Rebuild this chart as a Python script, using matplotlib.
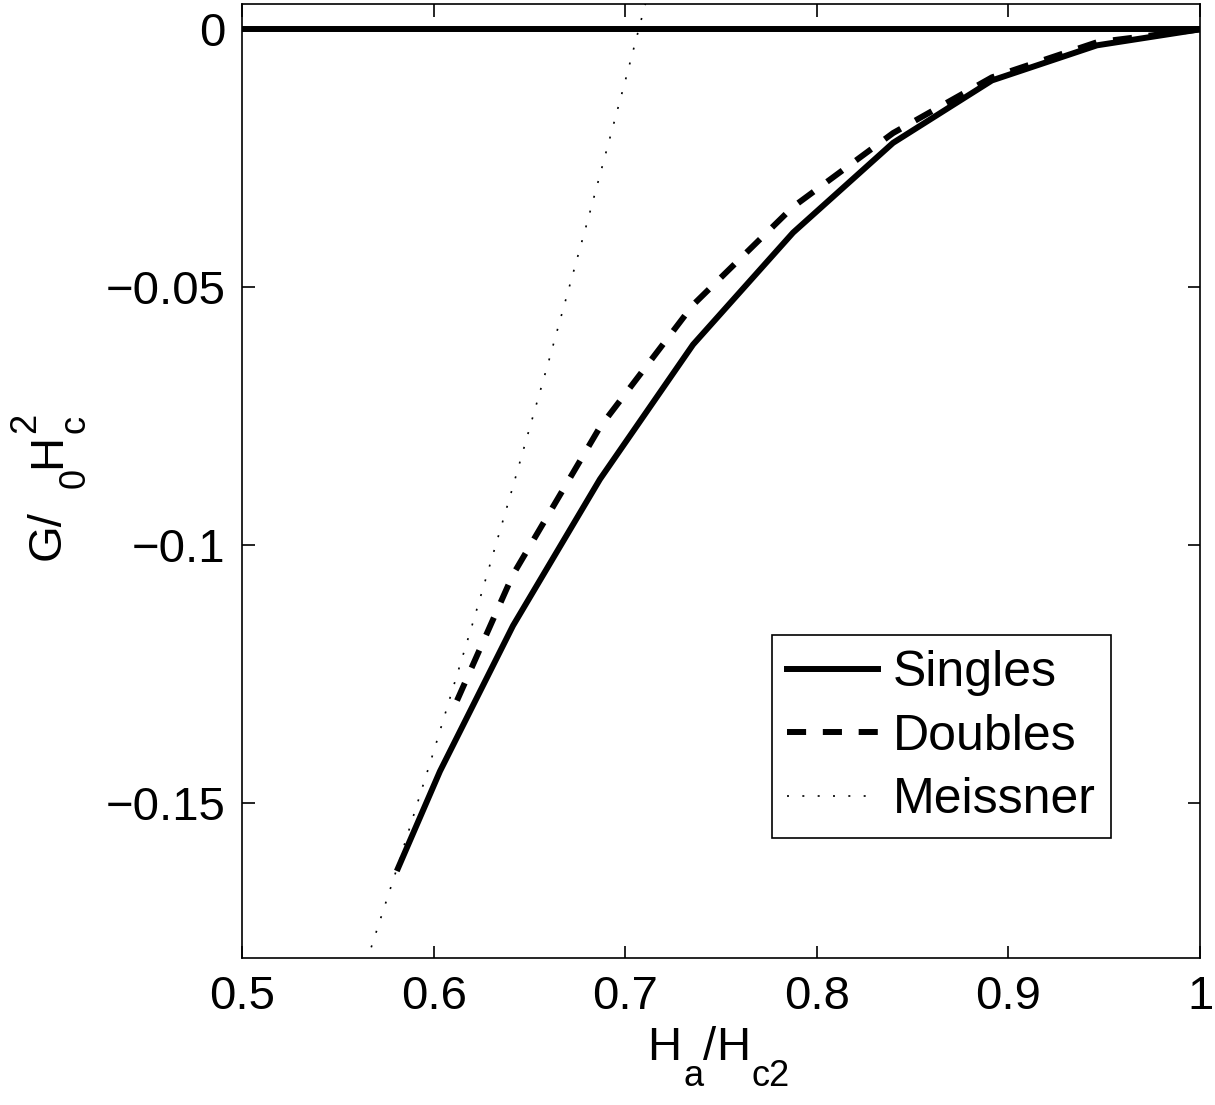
import matplotlib
matplotlib.use("Agg")
import matplotlib.pyplot as plt
from matplotlib.transforms import IdentityTransform

singles_x = [0.5814, 0.6033, 0.6414, 0.6868, 0.7354, 0.7876, 0.8398, 0.8914, 0.9462, 1.0]
singles_y = [-0.1626, -0.1438, -0.1156, -0.0872, -0.0611, -0.0394, -0.0220, -0.0099, -0.0031, 0.0]

doubles_x = [0.6122, 0.6414, 0.6868, 0.7354, 0.7876, 0.8398, 0.8914, 0.9462, 1.0]
doubles_y = [-0.1301, -0.1057, -0.0771, -0.0534, -0.0344, -0.0201, -0.0093, -0.0025, 0.0]

meissner_x = [0.56, 0.58, 0.60, 0.62, 0.64, 0.66, 0.68, 0.70, 0.72]
meissner_y = [-0.1864, -0.1636, -0.1400, -0.1156, -0.0904, -0.0644, -0.0376, -0.0100, 0.0184]

xticks = [0.5, 0.6, 0.7, 0.8, 0.9, 1.0]
xtick_labels = ["0.5", "0.6", "0.7", "0.8", "0.9", "1"]
yticks = [0.0, -0.05, -0.1, -0.15]
ytick_labels = ["0", "\u22120.05", "\u22120.1", "\u22120.15"]

plt.rcParams["font.family"] = ["Liberation Sans", "DejaVu Sans"]

FS = 34     # main text
SUB = 26    # sub/superscripts, MATLAB tex style
LW = 4.3
H_PX = 1105


def draw_pieces(fig, pieces, x0, y0, vertical=False):
    """Lay out text pieces along a baseline (display px); MATLAB-like sub/superscripts.
    piece = (text, size, shift_px, advance) or a number for an empty gap."""
    r = fig.canvas.get_renderer()
    pos = 0.0
    for p in pieces:
        if isinstance(p, (int, float)):
            pos += p
            continue
        s, size, shift, adv = p
        if vertical:
            t = fig.text(x0 - shift, y0 + pos, s, fontsize=size, rotation=90,
                         rotation_mode="anchor", ha="left", va="baseline",
                         transform=IdentityTransform())
            w = t.get_window_extent(r).height
        else:
            t = fig.text(x0 + pos, y0 + shift, s, fontsize=size, ha="left",
                         va="baseline", transform=IdentityTransform())
            w = t.get_window_extent(r).width
        if adv:
            pos += w


fig = plt.figure(figsize=(12.15, 11.05), dpi=100)
ax = fig.add_axes([0.1992, 0.1330, 0.9877 - 0.1992, 0.9968 - 0.1330])

ax.axhline(0, color="black", lw=LW)
ax.plot(singles_x, singles_y, color="black", lw=LW, label="Singles")
ax.plot(doubles_x, doubles_y, color="black", lw=LW, label="Doubles",
        linestyle=(0, (3.2, 2.8)), dash_capstyle="butt")
ax.plot(meissner_x, meissner_y, color="black", lw=1.2, label="Meissner",
        linestyle=(0, (1.2, 8)))

ax.set_xlim(0.5, 1.0)
ax.set_ylim(-0.18, 0.005)
ax.set_xticks(xticks)
ax.set_xticklabels(xtick_labels, fontsize=FS)
ax.set_yticks(yticks)
ax.set_yticklabels(ytick_labels, fontsize=FS)
ax.tick_params(direction="in", length=9, width=1.2, top=True, right=True, pad=12)
for s in ax.spines.values():
    s.set_linewidth(1.2)

leg = ax.legend(loc="lower right", bbox_to_anchor=(0.907, 0.1257), fontsize=36,
                frameon=True, fancybox=False, edgecolor="black", framealpha=1,
                handlelength=1.82, handletextpad=0.3, labelspacing=0.35,
                borderpad=0.3, borderaxespad=0)
leg.get_frame().set_linewidth(1.2)

# axis labels: H_a/H_c2 and G/ _0H_c^2 (the mu glyph is blank in the original)
fig.canvas.draw()
draw_pieces(fig, [("H", FS, 0, True), 2, ("a", SUB, -26, True), ("/", FS, 0, True),
                  ("H", FS, 0, True), 1, ("c2", SUB, -26, True)],
            647, H_PX - 1060)
draw_pieces(fig, [("G/", FS, 0, True), 22, ("0", SUB, -25, True), ("H", FS, 0, True),
                  1, ("c", SUB, -25, False), ("2", SUB, 25, True)],
            60, H_PX - 560, vertical=True)

fig.savefig("out.png", dpi=100)
